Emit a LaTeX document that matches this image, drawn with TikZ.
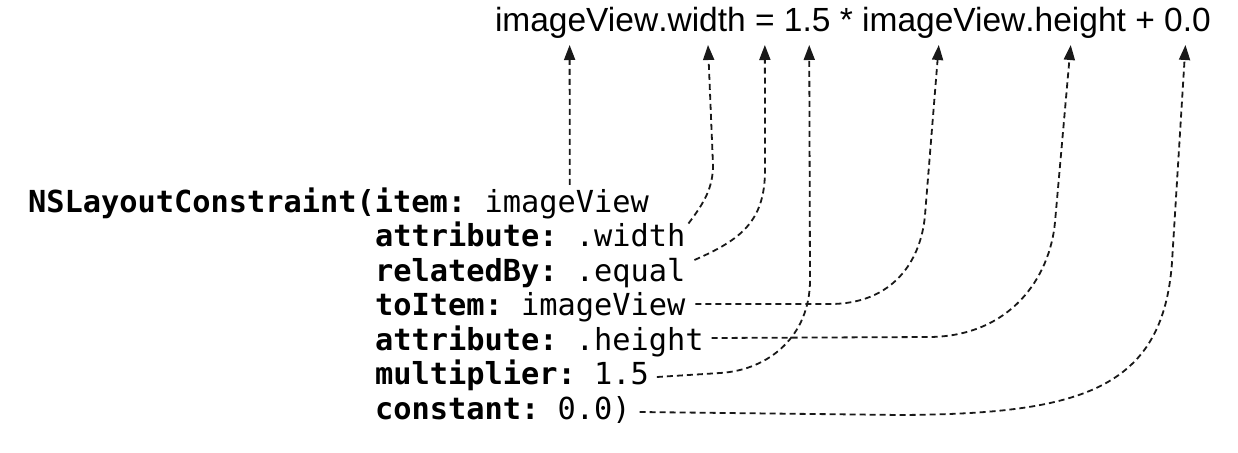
\documentclass[tikz,border=0pt]{standalone}
\usepackage{fontspec}
\setmonofont{DejaVu Sans Mono}
\newfontfamily\formfont{Liberation Sans}
\usetikzlibrary{arrows.meta}
\begin{document}
\begin{tikzpicture}[x=1pt,y=-1pt,
  ftxt/.style={anchor=base west,inner sep=0pt,outer sep=0pt,font=\formfont\fontsize{33.5}{40}\selectfont},
  ctxt/.style={anchor=base west,inner sep=0pt,outer sep=0pt,font=\ttfamily\fontsize{30.33}{34.5}\selectfont},
  link/.style={draw=black!90,line width=1.8pt,dash pattern=on 6pt off 4pt,
    -{Triangle[length=15pt,width=11pt]}}]
\fill[white] (0,0) rectangle (1238,452);
\useasboundingbox (0,0) rectangle (1238,452);
% formula
\node[ftxt] (f1) at (495,32) {imageView};
\node[ftxt] (f2) at (f1.base east) {.width};
\node[ftxt] (f3) at (f2.base east) {\mbox{}\ =\ \mbox{}};
\node[ftxt] (f4) at (f3.base east) {1.5};
\node[ftxt] (f4b) at (f4.base east) {\mbox{}\ *\ \mbox{}};
\node[ftxt] (f5) at (f4b.base east) {imageView};
\node[ftxt] (f6) at (f5.base east) {.height};
\node[ftxt] (f6b) at (f6.base east) {\mbox{}\ +\ \mbox{}};
\node[ftxt] (f7) at (f6b.base east) {0.0};
% code
\node[ctxt] (n1a) at (28,212) {\textbf{NSLayoutConstraint(item:}\ \mbox{}};
\node[ctxt] (n1b) at (n1a.base east) {imageView};
\node[ctxt] (n2) at (375,246.5) {\textbf{attribute:} .width};
\node[ctxt] (n3) at (375,281) {\textbf{relatedBy:} .equal};
\node[ctxt] (n4) at (375,315.5) {\textbf{toItem:} imageView};
\node[ctxt] (n5) at (375,350) {\textbf{attribute:} .height};
\node[ctxt] (n6) at (375,384.5) {\textbf{multiplier:} 1.5};
\node[ctxt] (n7) at (375,419) {\textbf{constant:} 0.0)};
% endpoints
\coordinate (S1) at ([xshift=3pt,yshift=4pt]n1b.north);
\coordinate (S2) at ([shift={(3,-23)}]n2.base east);
\coordinate (S3) at ([shift={(9,-21)}]n3.base east);
\coordinate (S4) at ([shift={(10,-11.5)}]n4.base east);
\coordinate (S5) at ([shift={(8,-12)}]n5.base east);
\coordinate (S6) at ([shift={(8,-7.5)}]n6.base east);
\coordinate (S7) at ([shift={(9,-7)}]n7.base east);
\coordinate (T1) at ([xshift=-7pt,yshift=-13pt]f1.base);
\coordinate (T2) at ([xshift=6pt,yshift=-13pt]f2.base);
\coordinate (T3) at ([yshift=-13pt]f3.base);
\coordinate (T4) at ([xshift=2pt,yshift=-13pt]f4.base);
\coordinate (T5) at ([xshift=-5pt,yshift=-13pt]f5.base);
\coordinate (T6) at ([xshift=-5pt,yshift=-13pt]f6.base);
\coordinate (T7) at ([xshift=-2pt,yshift=-13pt]f7.base);
% connectors
\draw[link] (S1) -- (T1);
\draw[link] (S2) .. controls (704,203) and (713,188) .. (713,165) -- (T2);
\draw[link] (S3) .. controls (740,240) and (765,222) .. (765,170) -- (T3);
\draw[link] (S6) -- (720,373) .. controls (770,370) and (810,335) .. (810,280) -- (T4);
\draw[link] (S4) -- (830,304) .. controls (892,304) and (921,262) .. (925,215) -- (T5);
\draw[link] (S5) -- (930,337) .. controls (1010,336) and (1050,278) .. (1055,222) -- (T6);
\draw[link] (S7) -- (900,415) .. controls (1080,414) and (1163,390) .. (1172,262) -- (T7);
\end{tikzpicture}
\end{document}
